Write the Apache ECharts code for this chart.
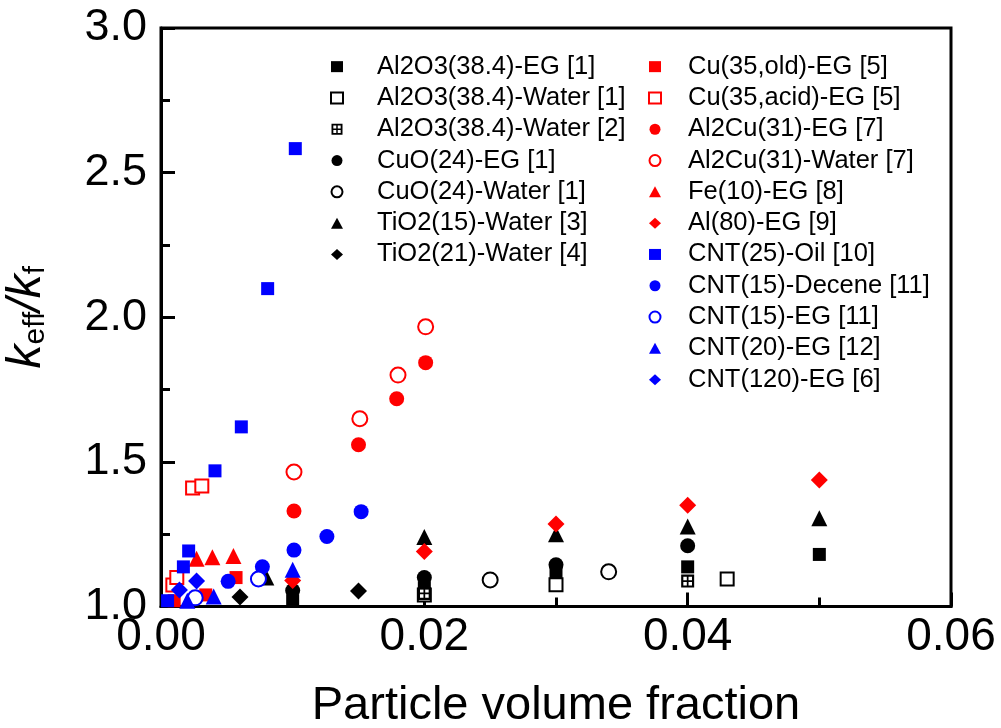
<!DOCTYPE html>
<html><head><meta charset="utf-8">
<script src="https://cdn.jsdelivr.net/npm/echarts@6/dist/echarts.min.js"></script>
<style>html,body{margin:0;padding:0;background:#fff}#c{width:1001px;height:728px}</style>
</head><body><div id="c"></div>
<script>
const xTicks = ['0.00','0.02','0.04','0.06'];
const yTicks = ['1.0','1.5','2.0','2.5','3.0'];
const names = ['Al2O3(38.4)-EG [1]','Al2O3(38.4)-Water [1]','Al2O3(38.4)-Water [2]','CuO(24)-EG [1]','CuO(24)-Water [1]','TiO2(15)-Water [3]','TiO2(21)-Water [4]',
  'Cu(35,old)-EG [5]','Cu(35,acid)-EG [5]','Al2Cu(31)-EG [7]','Al2Cu(31)-Water [7]','Fe(10)-EG [8]','Al(80)-EG [9]','CNT(25)-Oil [10]','CNT(15)-Decene [11]','CNT(15)-EG [11]','CNT(20)-EG [12]','CNT(120)-EG [6]'];
const al2o3EG = [[0.01,1.02],[0.02,1.065],[0.03,1.11],[0.04,1.137],[0.05,1.18]];
const al2o3W1 = [[0.02,1.04],[0.03,1.075],[0.043,1.095]];
const al2o3W2 = [[0.02,1.045],[0.04,1.088]];
const cuoEG = [[0.01,1.055],[0.02,1.10],[0.03,1.144],[0.04,1.21]];
const cuoW = [[0.025,1.092],[0.034,1.12]];
const tio2_15 = [[0.008,1.10],[0.02,1.24],[0.03,1.25],[0.04,1.277],[0.05,1.305]];
const tio2_21 = [[0.006,1.033],[0.015,1.054]];
const cuOld = [[0.001,1.02],[0.0034,1.04],[0.0057,1.10]];
const cuAcid = [[0.0009,1.074],[0.0012,1.10],[0.0024,1.41],[0.0031,1.417]];
const al2cuEG = [[0.0101,1.33],[0.015,1.559],[0.0179,1.718],[0.0201,1.843]];
const al2cuW = [[0.0101,1.465],[0.0151,1.649],[0.018,1.80],[0.0201,1.967]];
const feEG = [[0.0027,1.165],[0.0039,1.17],[0.0055,1.175]];
const alEG = [[0.01,1.09],[0.02,1.19],[0.03,1.285],[0.04,1.35],[0.05,1.437]];
const cntOil = [[0.0005,1.02],[0.0017,1.137],[0.0021,1.192],[0.0041,1.469],[0.0061,1.621],[0.0081,2.099],[0.0102,2.583]];
const cntDecene = [[0.0051,1.087],[0.0077,1.137],[0.0101,1.195],[0.0126,1.242],[0.0152,1.328]];
const cnt15EG = [[0.0026,1.03],[0.0074,1.095]];
const cnt20EG = [[0.002,1.02],[0.004,1.035],[0.01,1.127]];
const cnt120EG = [[0.0014,1.057],[0.0027,1.088]];

const K='#000000', R='#ff0000', B='#0000ff';
const cross = 'path://M0,0H12V12H0Z M2,2V5.2H5.2V2Z M6.8,2V5.2H10V2Z M2,6.8V10H5.2V6.8Z M6.8,6.8V10H10V6.8Z';
const defs = [
  [al2o3EG,'rect',K,false,13],[al2o3W1,'rect',K,true,13],[al2o3W2,cross,K,false,13],[cuoEG,'circle',K,false,15],[cuoW,'circle',K,true,15],[tio2_15,'triangle',K,false,16],[tio2_21,'diamond',K,false,17],
  [cuOld,'rect',R,false,13],[cuAcid,'rect',R,true,13],[al2cuEG,'circle',R,false,15],[al2cuW,'circle',R,true,15],[feEG,'triangle',R,false,16],[alEG,'diamond',R,false,17],
  [cntOil,'rect',B,false,13],[cntDecene,'circle',B,false,15],[cnt15EG,'circle',B,true,15],[cnt20EG,'triangle',B,false,16],[cnt120EG,'diamond',B,false,17]
];
const series = defs.map((d,i)=>({
  name: names[i], type:'scatter', data:d[0], symbol:d[1], symbolSize:d[4],
  itemStyle: d[3] ? {color:'#ffffff', borderColor:d[2], borderWidth:2, opacity:1} : {color:d[2], opacity:1},
  emphasis:{disabled:true}, z: 3
}));
const legendTextL = {fontFamily:'Liberation Sans, Arial, sans-serif', fontSize:25.5, color:'#000', lineHeight:31.3, padding:[0,0,0,29]};
const legendTextR = {fontFamily:'Liberation Sans, Arial, sans-serif', fontSize:25.5, color:'#000', lineHeight:31.3, padding:[0,0,0,22]};
const tickStyle = {color:'#000', width:3};
const chart = echarts.init(document.getElementById('c'), null, {renderer:'canvas'});
chart.setOption({
  animation:false,
  grid:{left:161, right:50, top:28, bottom:121.5, show:true, borderColor:'#000', borderWidth:3, outerBoundsMode:'none', containLabel:false},
  xAxis:[{type:'value', position:'bottom', min:0, max:0.06, interval:0.02,
    axisLine:{show:true, onZero:false, lineStyle:{color:'#000', width:3}},
    axisTick:{show:true, inside:true, length:14, lineStyle:tickStyle},
    minorTick:{show:false},
    splitLine:{show:false},
    axisLabel:{margin:8, color:'#000', fontFamily:'Liberation Sans, Arial, sans-serif', fontSize:46,
      formatter:v=>xTicks[Math.round(v/0.02)]},
    name:'Particle volume fraction', nameLocation:'middle', nameGap:76,
    nameTextStyle:{color:'#000', fontFamily:'Liberation Sans, Arial, sans-serif', fontSize:47}
  },{type:'value', position:'bottom', offset:0, min:0, max:0.06, interval:0.01,
    axisLine:{show:false, onZero:false}, axisTick:{show:true, inside:true, length:9, lineStyle:tickStyle},
    axisLabel:{show:false}, splitLine:{show:false}
  }],
  yAxis:[{type:'value', position:'left', min:1, max:3, interval:0.5,
    axisLine:{show:true, onZero:false, lineStyle:{color:'#000', width:3}},
    axisTick:{show:true, inside:true, length:14, lineStyle:tickStyle},
    minorTick:{show:false},
    splitLine:{show:false},
    axisLabel:{margin:14, color:'#000', fontFamily:'Liberation Sans, Arial, sans-serif', fontSize:45,
      formatter:v=>yTicks[Math.round((v-1)/0.5)]},
    name:'{k|k}{s|eff}{k|/k}{s|f}', nameLocation:'middle', nameGap:110, nameRotate:90,
    nameTextStyle:{color:'#000', rich:{
      k:{fontFamily:'Liberation Sans, Arial, sans-serif', fontStyle:'italic', fontSize:48, color:'#000', verticalAlign:'bottom', lineHeight:50},
      s:{fontFamily:'Liberation Sans, Arial, sans-serif', fontSize:30, color:'#000', verticalAlign:'bottom', lineHeight:38}
    }}
  },{type:'value', position:'left', offset:0, min:1, max:3, interval:0.25,
    axisLine:{show:false, onZero:false}, axisTick:{show:true, inside:true, length:9, lineStyle:tickStyle},
    axisLabel:{show:false}, splitLine:{show:false}
  }],
  legend:[
    {orient:'vertical', left:325, top:46, itemWidth:12, itemHeight:11, itemGap:0, textStyle:legendTextL, data:names.slice(0,7), selectedMode:false},
    {orient:'vertical', left:643, top:46, itemWidth:12, itemHeight:11, itemGap:0, textStyle:legendTextR, data:names.slice(7), selectedMode:false}
  ],
  series
});
</script></body></html>
